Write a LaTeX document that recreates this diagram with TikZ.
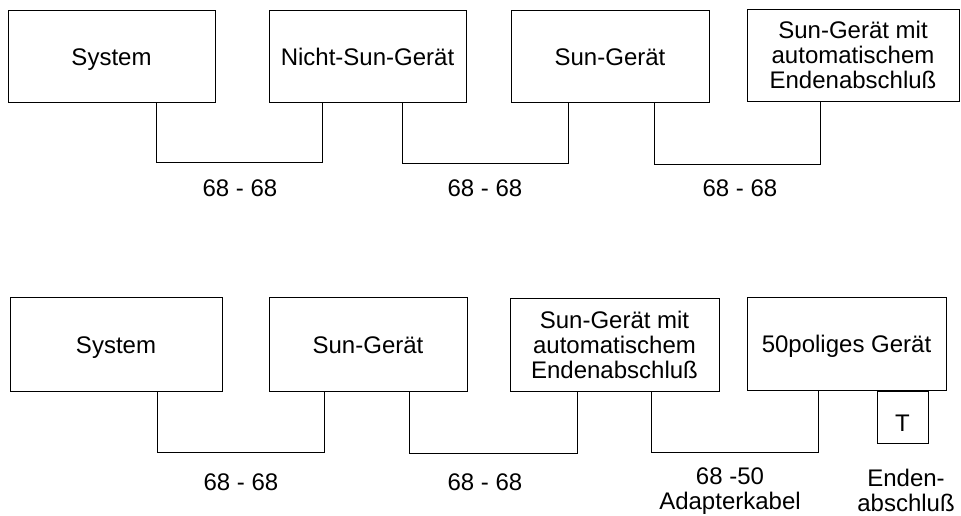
\documentclass[tikz,border=0pt]{standalone}
\usepackage{fontspec}
\setmainfont{Liberation Sans}
\begin{document}
\begin{tikzpicture}[x=1pt,y=-1pt,
  every node/.style={font=\fontsize{24}{25}\selectfont},
  dev/.style={draw,line width=1pt,inner sep=0pt,align=center},
  oneline/.style={text height=22pt,text depth=4pt},
  lbl/.style={inner sep=0pt,align=center},
  cable/.style={line width=1pt}]
\useasboundingbox (0,0) rectangle (961,515);

% upper chain
\node[dev,oneline,minimum width=207,minimum height=92] (a1) at (111.5,56) {System};
\node[dev,oneline,minimum width=197,minimum height=92] (a2) at (367.5,56) {Nicht-Sun-Gerät};
\node[dev,oneline,minimum width=198,minimum height=92] (a3) at (610,56) {Sun-Gerät};
\node[dev,minimum width=212,minimum height=92] (a4) at (853,55) {Sun-Gerät mit\\automatischem\\Endenabschluß};

\draw[cable] ([xshift=149]a1.south west) -- ++(0,60) -| ([xshift=54]a2.south west);
\draw[cable] ([xshift=134]a2.south west) -- ++(0,61) -| ([xshift=58]a3.south west);
\draw[cable] ([xshift=144]a3.south west) -- ++(0,62) -| ([xshift=74]a4.south west);

\node[lbl] (la1) at (240,188) {68 - 68};
\node[lbl] (la2) at (485,188) {68 - 68};
\node[lbl] (la3) at (740,188) {68 - 68};

% lower chain
\node[dev,oneline,minimum width=212,minimum height=94] (b1) at (116,344) {System};
\node[dev,oneline,minimum width=198,minimum height=94] (b2) at (368,344) {Sun-Gerät};
\node[dev,minimum width=209,minimum height=93] (b3) at (614.5,345) {Sun-Gerät mit\\automatischem\\Endenabschluß};
\node[dev,oneline,minimum width=199,minimum height=93] (b4) at (846.5,343.5) {50poliges Gerät};
\node[dev,text height=28pt,text depth=0pt,minimum width=51,minimum height=52,anchor=north west] (t) at ([xshift=130]b4.south west) {T};

\draw[cable] ([xshift=148]b1.south west) -- ++(0,61) -| ([xshift=56]b2.south west);
\draw[cable] ([xshift=141]b2.south west) -- ++(0,62) -| ([xshift=68]b3.south west);
\draw[cable] ([xshift=142]b3.south west) -- ++(0,60) -| ([xshift=72]b4.south west);

\node[lbl] (lb1) at (241,482) {68 - 68};
\node[lbl] (lb2) at (485,482) {68 - 68};
\node[lbl] (lb3) at (730,491) {68 -50\\Adapterkabel};
\node[lbl] (lb4) at (906,490) {Enden-\\abschluß};
\end{tikzpicture}
\end{document}
